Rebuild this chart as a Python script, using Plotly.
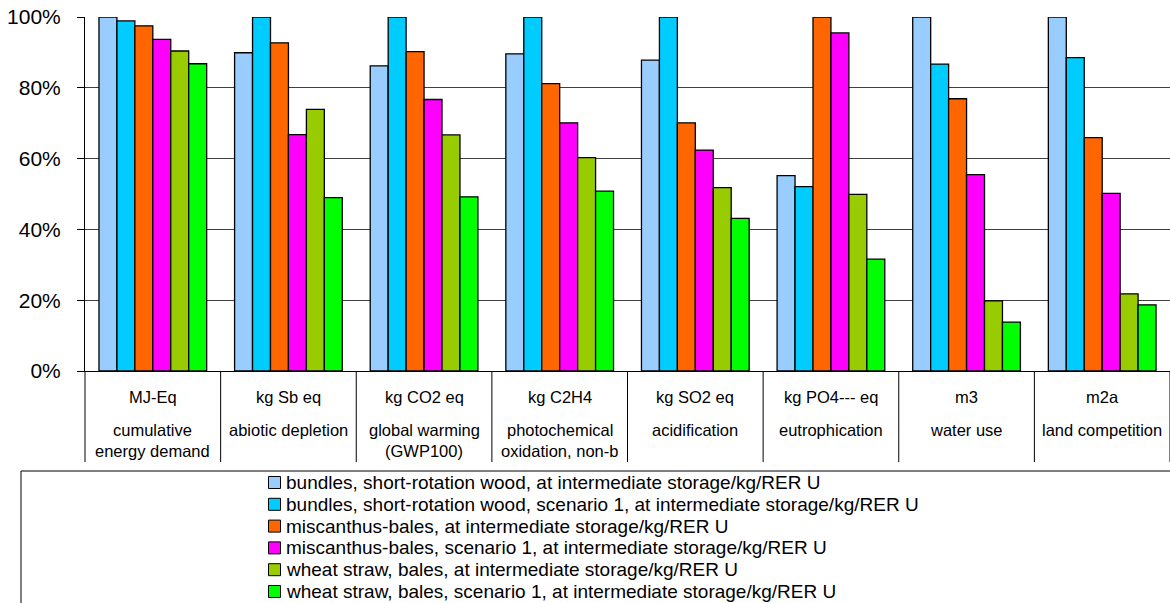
import plotly.graph_objects as go

# Impact categories (unit row, name row) and the six fuel chains
units = ["MJ-Eq", "kg Sb eq", "kg CO2 eq", "kg C2H4", "kg SO2 eq",
         "kg PO4--- eq", "m3", "m2a"]
names = [["cumulative", "energy demand"], ["abiotic depletion"],
         ["global warming", "(GWP100)"], ["photochemical", "oxidation, non-b"],
         ["acidification"], ["eutrophication"], ["water use"],
         ["land competition"]]

series_names = [
    "bundles, short-rotation wood, at intermediate storage/kg/RER U",
    "bundles, short-rotation wood, scenario 1, at intermediate storage/kg/RER U",
    "miscanthus-bales, at intermediate storage/kg/RER U",
    "miscanthus-bales, scenario 1, at intermediate storage/kg/RER U",
    "wheat straw, bales, at intermediate storage/kg/RER U",
    "wheat straw, bales, scenario 1, at intermediate storage/kg/RER U",
]
colors = ["#99CCFF", "#00CCFF", "#FF6600", "#FF00FF", "#99CC00", "#00FF00"]

# Relative impact (% of the highest chain in each category)
srw = [100.0, 89.9, 86.2, 89.6, 87.8, 55.2, 100.0, 100.0]
srw_s1 = [98.9, 100.0, 100.0, 100.0, 100.0, 52.1, 86.7, 88.5]
misc = [97.5, 92.7, 90.2, 81.2, 70.1, 100.0, 76.9, 65.9]
misc_s1 = [93.7, 66.8, 76.7, 70.1, 62.4, 95.5, 55.5, 50.2]
straw = [90.4, 73.9, 66.7, 60.3, 51.8, 49.9, 19.8, 21.8]
straw_s1 = [86.8, 49.0, 49.2, 50.8, 43.1, 31.6, 13.8, 18.7]
values = [srw, srw_s1, misc, misc_s1, straw, straw_s1]

y_ticks = [0, 20, 40, 60, 80, 100]
y_tick_text = ["0%", "20%", "40%", "60%", "80%", "100%"]

FONT = "Liberation Sans, Arial, sans-serif"
W, H = 1170, 603
ML, MR, MT, MB = 85, 0, 17, 232
PW, PH = W - ML - MR, H - MT - MB


def px_x(px):
    return (px - ML) / PW


def px_y(py):
    return (H - MB - py) / PH


fig = go.Figure()
for name, col, vals in zip(series_names, colors, values):
    fig.add_trace(go.Bar(
        x=units, y=vals, name=name,
        marker=dict(color=col, line=dict(color="black", width=1.3)),
        showlegend=False,
    ))

shapes = []
annotations = []
n = len(units)

# category separators below the axis
for k in range(n + 1):
    shapes.append(dict(type="line", xref="paper", yref="paper",
                       x0=k / n, x1=k / n, y0=0, y1=px_y(462),
                       line=dict(color="black", width=1)))

# two-level category labels
for i, (u, nm) in enumerate(zip(units, names)):
    xc = (i + 0.5) / n
    annotations.append(dict(xref="paper", yref="paper", x=xc, y=px_y(397),
                            text=u, showarrow=False, xanchor="center",
                            yanchor="middle",
                            font=dict(family=FONT, size=16.5, color="black")))
    for j, line in enumerate(nm):
        annotations.append(dict(xref="paper", yref="paper", x=xc,
                                y=px_y(430 + 21 * j), text=line,
                                showarrow=False, xanchor="center",
                                yanchor="middle",
                                font=dict(family=FONT, size=16.5,
                                          color="black")))

# legend frame and entries
shapes.append(dict(type="rect", xref="paper", yref="paper",
                   x0=px_x(21), x1=px_x(1200), y0=px_y(471), y1=px_y(640),
                   line=dict(color="black", width=1), fillcolor="white",
                   layer="below"))
for r, (name, col) in enumerate(zip(series_names, colors)):
    yc = 482.5 + 21.8 * r
    shapes.append(dict(type="rect", xref="paper", yref="paper",
                       x0=px_x(268.5), x1=px_x(280.5),
                       y0=px_y(yc - 6), y1=px_y(yc + 6),
                       fillcolor=col, line=dict(color="black", width=1)))
    annotations.append(dict(xref="paper", yref="paper", x=px_x(284),
                            y=px_y(yc), text=name, showarrow=False,
                            xanchor="left", yanchor="middle",
                            font=dict(family=FONT, size=19, color="black")))

fig.update_layout(
    width=W, height=H,
    margin=dict(l=ML, r=MR, t=MT, b=MB, pad=0),
    paper_bgcolor="white", plot_bgcolor="white",
    barmode="group", bargap=0.206, bargroupgap=0,
    font=dict(family=FONT, color="black"),
    shapes=shapes, annotations=annotations,
    xaxis=dict(type="category", showticklabels=False, ticks="",
               showline=True, linecolor="black", linewidth=1,
               range=[-0.5, n - 0.5], showgrid=False, zeroline=False,
               fixedrange=True),
    yaxis=dict(range=[0, 100], tickvals=y_ticks, ticktext=y_tick_text,
               showline=True, linecolor="black", linewidth=1,
               ticks="outside", ticklen=7, tickcolor="black",
               showgrid=True, gridcolor="#404040", gridwidth=1,
               zeroline=False, ticklabelstandoff=12,
               tickfont=dict(family=FONT, size=21, color="black"),
               fixedrange=True),
    showlegend=False,
)

fig.write_html("out.html")
